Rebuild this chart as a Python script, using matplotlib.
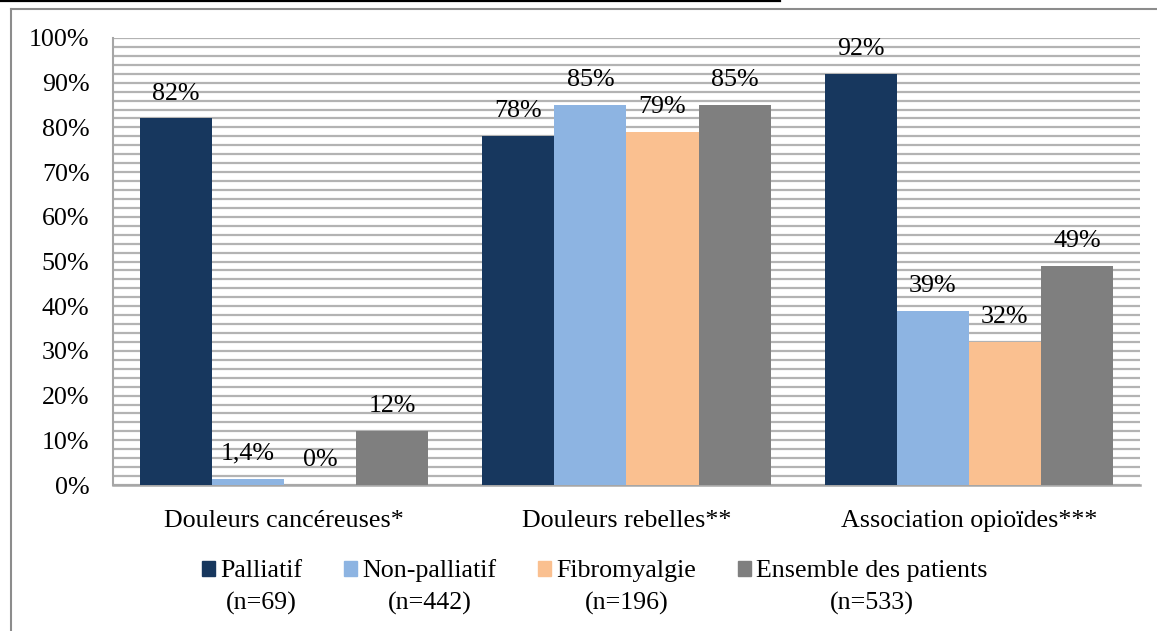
import matplotlib
matplotlib.use("Agg")
import matplotlib.pyplot as plt
import numpy as np
from matplotlib.lines import Line2D
from matplotlib.patches import Rectangle

categories = ["Douleurs cancéreuses*", "Douleurs rebelles**", "Association opioïdes***"]
series_names = ["Palliatif", "Non-palliatif", "Fibromyalgie", "Ensemble des patients"]
series_n = ["(n=69)", "(n=442)", "(n=196)", "(n=533)"]
palliatif = [82, 78, 92]
non_palliatif = [1.4, 85, 39]
fibromyalgie = [0, 79, 32]
ensemble = [12, 85, 49]
colors = ["#17375E", "#8DB4E2", "#FAC090", "#7F7F7F"]
yticks = list(range(0, 101, 10))

plt.rcParams['font.family'] = ['Liberation Serif', 'DejaVu Serif']
FS = 18.7

W, H = 1157, 631
fig = plt.figure(figsize=(W / 100, H / 100), dpi=100)
ax = fig.add_axes([113 / W, 1 - 485 / H, (1140 - 113) / W, (485 - 38) / H])

values = [palliatif, non_palliatif, fibromyalgie, ensemble]
x = np.arange(len(categories))
bw = 72 / 342
offsets = (np.arange(4) - 1.5) * bw
for i, (vals, c) in enumerate(zip(values, colors)):
    bars = ax.bar(x + offsets[i], vals, width=bw, color=c, zorder=3, label=series_names[i])
    for b, v in zip(bars, vals):
        txt = (f"{v:g}%").replace(".", ",")
        ax.annotate(txt, (b.get_x() + b.get_width() / 2, v), xytext=(0, 10),
                    textcoords="offset points", ha="center", va="bottom",
                    fontsize=FS, zorder=4)

ax.set_xlim(-0.5, 2.5)
ax.set_ylim(0, 100)
ax.set_yticks(yticks)
ax.set_yticklabels([f"{t}%" for t in yticks], fontsize=FS)
ax.set_yticks(np.arange(0, 101, 2), minor=True)
ax.set_xticks(x)
ax.set_xticklabels(categories, fontsize=FS)
ax.tick_params(axis='both', length=0)
ax.tick_params(axis='y', pad=17)
ax.tick_params(axis='x', pad=18)
ax.tick_params(axis='y', which='minor', length=0)
ax.grid(axis='y', which='both', color='#b3b3b3', linewidth=1.6, zorder=1)
for s in ['top', 'right']:
    ax.spines[s].set_visible(False)
ax.spines['left'].set_color('#a6a6a6')
ax.spines['left'].set_linewidth(1.5)
ax.spines['bottom'].set_color('#a6a6a6')
ax.spines['bottom'].set_linewidth(1.8)
ax.set_axisbelow(True)

# outer chart frame
fig.add_artist(Line2D([11 / W, 11 / W], [0, 1 - 9 / H], color='#8c8c8c', lw=1.5, transform=fig.transFigure))
fig.add_artist(Line2D([11 / W, 1], [1 - 9 / H, 1 - 9 / H], color='#8c8c8c', lw=1.5, transform=fig.transFigure))
# cropped caption line at top
fig.add_artist(Line2D([0, 780 / W], [1 - 0.8 / H, 1 - 0.8 / H], color='black', lw=1.6, transform=fig.transFigure))

# legend
handles = [Rectangle((0, 0), 1, 1, color=c) for c in colors]
leg = fig.legend(handles, series_names, loc='center', bbox_to_anchor=(595 / W, 1 - 571 / H),
                 ncol=4, frameon=False, fontsize=FS, handlelength=0.5, handleheight=0.5,
                 handletextpad=0.2, columnspacing=1.6)
fig.canvas.draw()
r = fig.canvas.get_renderer()
for t, n in zip(leg.get_texts(), series_n):
    bb = t.get_window_extent(r)
    cx = (bb.x0 + bb.x1) / 2
    fig.text(cx / W, (1 - 603 / H), n, ha='center', va='center', fontsize=FS)

fig.savefig("out.png", dpi=100)
